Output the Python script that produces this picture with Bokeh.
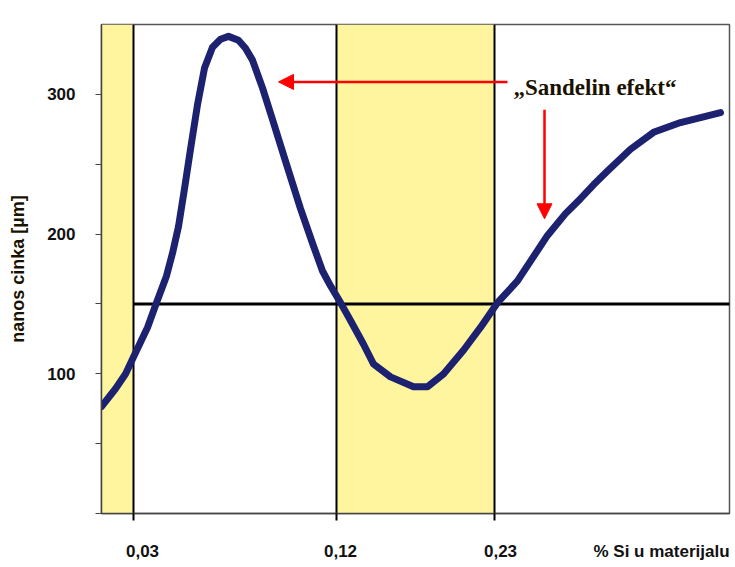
from bokeh.plotting import figure
from bokeh.models import Range1d, FixedTicker, Arrow, NormalHead, Label
from bokeh.embed import file_html
from bokeh.resources import INLINE

# ---- data ----
# x positions along the (non-linear) Si axis, in axis units 0..628
curve_x = [0, 14, 24, 32, 39, 46, 55, 65, 71, 77, 83, 89, 96, 103, 111, 119, 127,
           137, 144, 151, 161, 171, 184, 199, 211, 221, 229, 239, 249, 262, 272,
           289, 312, 326, 342, 362, 379, 396, 416, 431, 446, 464, 479, 492, 506,
           529, 552, 579, 599, 619]
curve_y = [76.5, 89.3, 99.9, 112.0, 122.6, 133.2, 150.9, 170.1, 186.4, 205.5, 232.5,
           260.8, 292.7, 318.9, 333.8, 339.5, 341.6, 338.8, 333.1, 324.6, 304.7,
           282.1, 252.3, 218.3, 193.5, 173.6, 163.0, 151.0, 138.2, 121.2, 107.0,
           97.8, 90.7, 90.7, 99.9, 116.9, 133.2, 150.9, 166.5, 182.8, 199.1, 214.7,
           225.4, 235.3, 245.2, 260.8, 272.9, 279.9, 283.5, 287.0]

x_tick_pos = [32, 235, 393]                 # positions of the Si levels
x_label_pos = [41, 239, 399, 560]           # where the tick texts sit
x_tick_labels = ["0,03", "0,12", "0,23", "% Si u materijalu"]
y_ticks = [0, 50, 100, 150, 200, 250, 300]
y_tick_labels = ["", "", "100", "", "200", "", "300"]

band_left = [0, 235]
band_right = [32, 393]

ref_level = 150
x_min, x_max = 0, 628
y_min, y_max = 0, 350.1

annotation_text = "\u201eSandelin efekt\u201c"
left_arrow = dict(x_start=406, y_start=309, x_end=177, y_end=309)
down_arrow = dict(x_start=443, y_start=289, x_end=443, y_end=211)

# ---- figure ----
p = figure(width=735, height=563, output_backend="svg", toolbar_location=None,
           x_range=Range1d(x_min, x_max), y_range=Range1d(y_min, y_max),
           min_border_left=101, min_border_right=6, min_border_top=24,
           min_border_bottom=45)
p.xgrid.visible = False
p.ygrid.visible = False
p.outline_line_color = "#555555"
p.outline_line_width = 1.5
p.background_fill_color = "white"
p.border_fill_color = "white"

# yellow bands
p.quad(left=band_left, right=band_right, bottom=[y_min] * 2, top=[y_max] * 2,
       fill_color="#FFF59F", line_color=None)

# vertical reference lines at ticks
p.segment(x0=x_tick_pos, x1=x_tick_pos, y0=[y_min] * 3, y1=[y_max] * 3,
          line_color="black", line_width=2)
# horizontal line
p.segment(x0=[x_tick_pos[0]], x1=[x_max], y0=[ref_level], y1=[ref_level],
          line_color="black", line_width=3)

# curve
p.line(curve_x, curve_y, line_color="#1c2270", line_width=7,
       line_join="round", line_cap="round")

# arrows
for a in (left_arrow, down_arrow):
    p.add_layout(Arrow(end=NormalHead(size=15, fill_color="red", line_color="red"),
                       line_color="red", line_width=2.5, **a))

p.add_layout(Label(x=412, y=305, text=annotation_text, text_font="Liberation Serif",
                   text_font_style="bold", text_font_size="23px", text_color="#1a1200",
                   text_baseline="middle", text_align="left"))

# axes
xa = p.xaxis[0]
xa.ticker = FixedTicker(ticks=x_label_pos, minor_ticks=x_tick_pos)
xa.major_label_overrides = dict(zip(x_label_pos, x_tick_labels))
xa.major_tick_out = 0
xa.major_tick_in = 0
xa.minor_tick_out = 7
xa.minor_tick_in = 0
xa.minor_tick_line_color = "black"
xa.minor_tick_line_width = 2
xa.axis_line_color = "#444444"
xa.axis_line_width = 1.5
xa.major_label_text_font = "Liberation Sans"
xa.major_label_text_font_style = "bold"
xa.major_label_text_font_size = "17px"
xa.major_label_text_color = "#111111"
xa.major_label_standoff = 21

ya = p.yaxis[0]
ya.ticker = FixedTicker(ticks=y_ticks)
ya.major_label_overrides = dict(zip(y_ticks, y_tick_labels))
ya.major_tick_out = 6
ya.major_tick_in = 0
ya.minor_tick_out = 0
ya.minor_tick_in = 0
ya.major_tick_line_color = "#444444"
ya.axis_line_color = "#444444"
ya.axis_line_width = 1.5
ya.major_label_text_font = "Liberation Sans"
ya.major_label_text_font_style = "bold"
ya.major_label_text_font_size = "17px"
ya.major_label_text_color = "#111111"
ya.major_label_standoff = 20
ya.axis_label = "nanos cinka [\u00b5m]"
ya.axis_label_text_font = "Liberation Sans"
ya.axis_label_text_font_style = "bold"
ya.axis_label_text_font_size = "18px"
ya.axis_label_text_color = "#1a1200"
ya.axis_label_standoff = 16

open("out.html", "w").write(file_html(p, INLINE))
